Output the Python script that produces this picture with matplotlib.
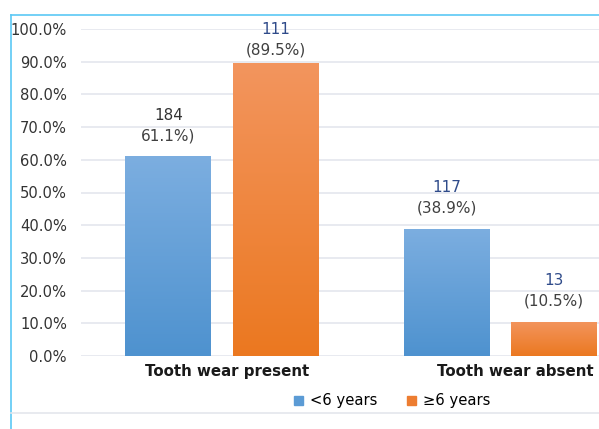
import numpy as np
import matplotlib.pyplot as plt
from matplotlib.lines import Line2D
from matplotlib.patches import Patch

# data
categories = ['Tooth wear present', 'Tooth wear absent']
groups = ['<6 years', '\u22656 years']
pct_young = [61.1, 38.9]
pct_old = [89.5, 10.5]
n_young = [184, 117]
n_old = [111, 13]
pct_labels_young = ['61.1%)', '(38.9%)']
pct_labels_old = ['(89.5%)', '(10.5%)']
yticks = [0, 10, 20, 30, 40, 50, 60, 70, 80, 90, 100]

W, H = 599, 429
fig = plt.figure(figsize=(W / 100, H / 100), dpi=100)
plt.rcParams['font.family'] = 'DejaVu Sans'

# frame lines of the original chart box
fig.add_artist(Line2D([11 / W, 11 / W], [0, 1 - 15 / H], color='#5BC8F5', lw=1.2))
fig.add_artist(Line2D([11 / W, 1], [1 - 15 / H, 1 - 15 / H], color='#5BC8F5', lw=1.2))
fig.add_artist(Line2D([11 / W, 1], [1 - 413 / H, 1 - 413 / H], color='#E4E6EC', lw=1.2))

ax = fig.add_axes([81 / W, (H - 356) / H, (W - 81) / W, (356 - 29) / H])

x = np.arange(len(categories))
w = 0.309
off = 0.1925
b1 = ax.bar(x - off, pct_young, w, color='#5B9BD5', zorder=2)
b2 = ax.bar(x + off, pct_old, w, color='#ED7D31', zorder=2)

# vertical gradient fill on each bar
blue_cmap = plt.matplotlib.colors.LinearSegmentedColormap.from_list('b', ['#4E92CF', '#7CAEE0'])
orange_cmap = plt.matplotlib.colors.LinearSegmentedColormap.from_list('o', ['#EB7820', '#F3955E'])
grad = np.linspace(0, 1, 256).reshape(-1, 1)
for bars, cm in [(b1, blue_cmap), (b2, orange_cmap)]:
    for bar in bars:
        bx, by = bar.get_x(), bar.get_y()
        bw, bh = bar.get_width(), bar.get_height()
        im = ax.imshow(grad, cmap=cm, origin='lower', aspect='auto',
                       extent=[bx, bx + bw, by, by + bh], zorder=2.5)
        im.set_clip_path(bar)

# value labels (pushed down under the top of the chart when needed)
for i in range(len(categories)):
    for xc, p, n, lab, ncol in [(x[i] - off, pct_young[i], n_young[i], pct_labels_young[i],
                                 '#333333' if i == 0 else '#2F4B8A'),
                                (x[i] + off, pct_old[i], n_old[i], pct_labels_old[i], '#2F4B8A')]:
        ax.text(xc, min(p + 6.3, 93.7), lab, ha='center', va='center', fontsize=11, color='#404040')
        ax.text(xc, min(p + 12.6, 99.8), str(n), ha='center', va='center', fontsize=11, color=ncol)

ax.set_xlim(-0.507, 1.356)
ax.set_ylim(0, 100)
ax.set_yticks(yticks)
ax.set_yticklabels([f'{t:.1f}%' for t in yticks], fontsize=10.6, color='#333333')
ax.set_xticks([0.02, 1.054])
ax.set_xticklabels(categories, fontsize=10.8, fontweight='bold', color='#1a1a1a')
ax.tick_params(axis='y', length=0, pad=10)
ax.tick_params(axis='x', length=0, pad=6)
for s in ax.spines.values():
    s.set_visible(False)
ax.yaxis.grid(True, color='#E4E6EE', lw=1.2, zorder=0)
ax.set_axisbelow(True)

handles = [Patch(color='#5B9BD5'), Patch(color='#ED7D31')]
fig.legend(handles, groups, loc='center', bbox_to_anchor=(392 / W, 1 - 401 / H), ncol=2,
           frameon=False, fontsize=10.6, handlelength=0.6, handleheight=0.6,
           handletextpad=0.5, columnspacing=2.0)

fig.savefig('out.png', dpi=100)
